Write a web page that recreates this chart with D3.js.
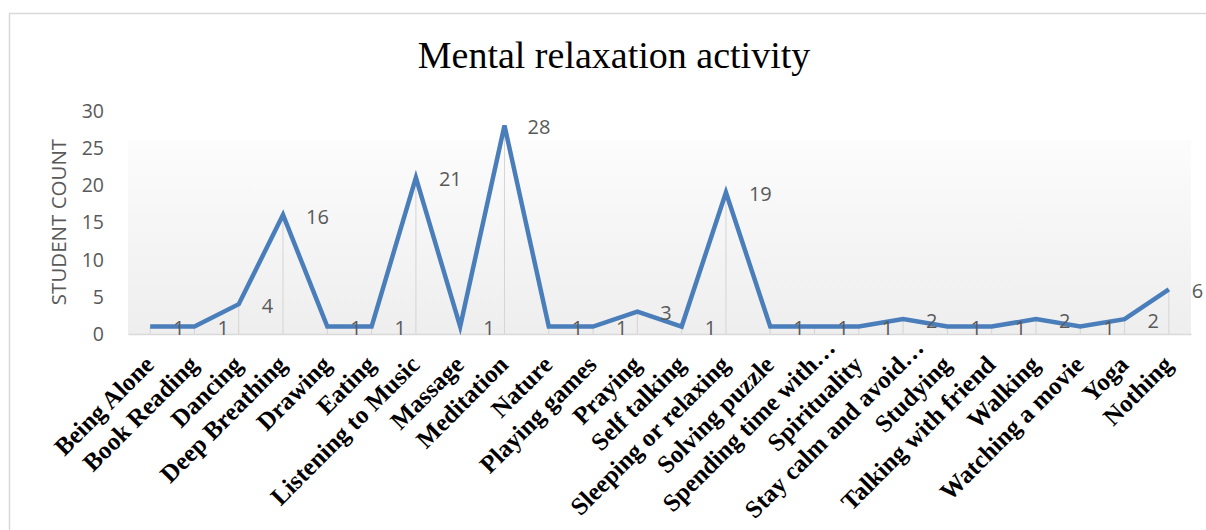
<!DOCTYPE html>
<html>
<head>
<meta charset="utf-8">
<script src="https://cdn.jsdelivr.net/npm/d3@7"></script>
<style>
  html, body { margin: 0; padding: 0; background: #ffffff; }
  svg { display: block; }
</style>
</head>
<body>
<div id="chart"></div>
<script>
// Activities students use for mental relaxation, with the number of students for each
const categories = [
  "Being Alone", "Book Reading", "Dancing", "Deep Breathing", "Drawing", "Eating",
  "Listening to Music", "Massage", "Meditation", "Nature", "Playing games", "Praying",
  "Self talking", "Sleeping or relaxing", "Solving puzzle", "Spending time with…",
  "Spirituality", "Stay calm and avoid…", "Studying", "Talking with friend", "Walking",
  "Watching a movie", "Yoga", "Nothing"
];
const studentCounts = [1, 1, 4, 16, 1, 1, 21, 1, 28, 1, 1, 3, 1, 19, 1, 1, 1, 2, 1, 1, 2, 1, 2, 6];
const yTicks = [0, 5, 10, 15, 20, 25, 30];

const W = 1206, H = 530;
const plot = { left: 128, right: 1191, top: 110.5, bottom: 334 };

const svg = d3.select("#chart").append("svg")
  .attr("width", W).attr("height", H);

// chart frame
svg.append("rect")
  .attr("x", 9.5).attr("y", 13.5)
  .attr("width", W + 10).attr("height", H + 10)
  .attr("fill", "none").attr("stroke", "#d9d9d9").attr("stroke-width", 1.5);

// soft gradient behind the plot
const defs = svg.append("defs");
const grad = defs.append("linearGradient")
  .attr("id", "plotFill").attr("x1", 0).attr("y1", 0).attr("x2", 0).attr("y2", 1);
grad.append("stop").attr("offset", "0%").attr("stop-color", "#fcfcfc");
grad.append("stop").attr("offset", "100%").attr("stop-color", "#eeeeee");

const x = d3.scaleBand().domain(categories).range([plot.left, plot.right]).padding(0);
const cx = d => x(d) + x.bandwidth() / 2;
const y = d3.scaleLinear().domain([0, 30]).range([plot.bottom, plot.top]);

svg.append("rect")
  .attr("x", plot.left).attr("y", 140)
  .attr("width", plot.right - plot.left).attr("height", plot.bottom - 140)
  .attr("fill", "url(#plotFill)");

// title
svg.append("text")
  .attr("x", 614).attr("y", 68)
  .attr("text-anchor", "middle")
  .attr("font-family", "'Liberation Serif', 'Times New Roman', serif")
  .attr("font-size", 38)
  .attr("fill", "#000")
  .text("Mental relaxation activity");

// y axis (labels only)
const yAxis = d3.axisLeft(y).tickValues(yTicks).tickSize(0).tickPadding(0);
const gy = svg.append("g")
  .attr("transform", `translate(104,0)`)
  .call(yAxis);
gy.select(".domain").remove();
gy.selectAll("text")
  .attr("font-family", "'Open Sans', sans-serif")
  .attr("font-size", 19.5)
  .attr("fill", "#595959")
  .attr("dy", "0.34em");

svg.append("text")
  .attr("transform", "translate(66,222) rotate(-90)")
  .attr("text-anchor", "middle")
  .attr("font-family", "'Open Sans', sans-serif")
  .attr("font-size", 20.5)
  .attr("fill", "#595959")
  .text("STUDENT COUNT");

const data = categories.map((c, i) => ({ c, v: studentCounts[i] }));

// drop lines from each point to the axis
svg.append("g").selectAll("line")
  .data(data).join("line")
  .attr("x1", d => cx(d.c)).attr("x2", d => cx(d.c))
  .attr("y1", d => y(d.v)).attr("y2", plot.bottom)
  .attr("stroke", "#d4d4d4").attr("stroke-width", 1);

// x axis
const xAxis = d3.axisBottom(x).tickSize(0).tickFormat("");
const gx = svg.append("g")
  .attr("transform", `translate(0,${plot.bottom})`)
  .call(xAxis);
gx.select(".domain").attr("stroke", "#d9d9d9").attr("stroke-width", 1.5);

// category labels; truncated names sit a little further along their slant
svg.append("g").selectAll("text")
  .data(categories).join("text")
  .attr("transform", d => `translate(${cx(d) - 1},360) rotate(-45)`)
  .attr("text-anchor", "end")
  .attr("dx", d => d.endsWith("…") ? 24 : 0)
  .attr("dy", "0.35em")
  .attr("font-family", "'Liberation Serif', 'Times New Roman', serif")
  .attr("font-weight", "bold")
  .attr("font-size", 25)
  .attr("fill", "#000")
  .text(d => d);

// the series line
const line = d3.line().x(d => cx(d.c)).y(d => y(d.v));
svg.append("path")
  .datum(data)
  .attr("d", line)
  .attr("fill", "none")
  .attr("stroke", "#4a7ebb")
  .attr("stroke-width", 4.5)
  .attr("stroke-linejoin", "miter");

// value labels to the right of each point
svg.append("g").selectAll("text")
  .data(data).join("text")
  .attr("x", d => cx(d.c) + 23)
  .attr("y", d => y(d.v) + 1.5)
  .attr("dy", "0.36em")
  .attr("font-family", "'Open Sans', sans-serif")
  .attr("font-size", 20)
  .attr("fill", "#595959")
  .text(d => d.v);
</script>
</body>
</html>
